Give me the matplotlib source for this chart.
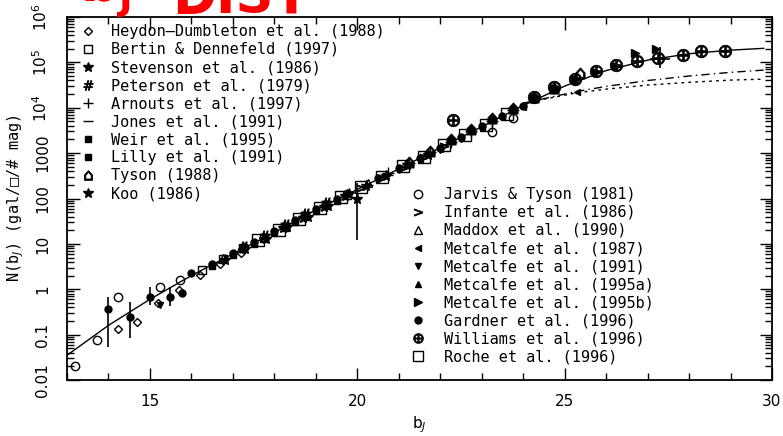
import numpy as np
import matplotlib.pyplot as plt
from matplotlib.lines import Line2D
from matplotlib.ticker import FixedLocator, NullFormatter

# model curve (bJ, N) and the two no-evolution tracks
curve_bj = [13.0, 14.0, 15.0, 16.0, 17.0, 18.0, 19.0, 20.0, 21.0, 22.0,
            23.0, 24.0, 25.0, 26.0, 27.0, 28.0, 29.0, 29.8]
curve_n = [0.035, 0.16, 0.60, 2.0, 6.0, 17.8, 56, 158, 447, 1320,
           3800, 11200, 30000, 66000, 112000, 155000, 186000, 204000]
dashdot_bj = [24.0, 25.3, 26.0, 27.0, 28.0, 29.0, 29.8]
dashdot_n = [12600, 22900, 29500, 39800, 50100, 60300, 67600]
dotted_bj = [24.0, 25.3, 26.0, 27.0, 28.0, 29.0, 29.8]
dotted_n = [12600, 21400, 25700, 31600, 36300, 40700, 42700]

# counts per survey: bJ, N
heydon_bj = [14.23, 14.7, 15.2, 15.7, 16.2, 16.7, 17.2]
heydon_n = [0.13, 0.19, 0.5, 0.95, 2.1, 3.6, 6.2]
bertin_bj = [16.25, 16.75, 17.25, 17.75, 18.25, 18.75, 19.25, 19.75]
bertin_n = [2.6, 4.6, 8.0, 13.5, 24, 42, 72, 120]
stevenson_bj = [16.8, 17.3, 17.8, 18.3, 18.8, 19.3, 19.8]
stevenson_n = [4.4, 7.8, 13, 23, 40, 70, 125]
peterson_bj = [17.25, 17.75, 18.25, 18.75, 19.25]
peterson_n = [8.5, 15, 26, 46, 80]
arnouts_bj = [20.75, 21.25, 21.75, 22.25, 22.75, 23.25, 23.75]
arnouts_n = [360, 600, 1050, 1800, 3100, 5200, 8800]
jones_bj = [20.25, 20.75, 21.25, 21.75, 22.25, 22.75]
jones_n = [200, 330, 560, 950, 1650, 2900]
weir_bj = [16.5, 17.0, 17.5, 18.0, 18.5, 19.0, 19.5]
weir_n = [3.3, 5.6, 9.8, 17, 30, 52, 90]
lilly_bj = [22.25, 22.75, 23.25, 23.75, 24.25, 24.75]
lilly_n = [1900, 3300, 5600, 9500, 16000, 25000]
tyson_bj = [21.25, 21.75, 22.25, 22.75, 23.25, 23.75, 24.25, 24.75, 25.36]
tyson_n = [640, 1100, 2000, 3400, 5900, 10000, 17000, 27000, 58000]
koo_bj = [18.2, 18.7, 19.2, 19.7, 20.0, 20.2, 20.7, 21.2, 21.7]
koo_n = [22, 38, 66, 115, 100, 190, 320, 540, 920]
jarvis_bj = [13.2, 13.72, 14.23, 15.24, 15.72, 23.24, 23.75]
jarvis_n = [0.02, 0.075, 0.67, 1.1, 1.6, 2900, 5900]
infante_bj = [20.1, 20.6, 21.1, 21.6, 22.1]
infante_n = [170, 290, 480, 820, 1400]
maddox_bj = [16.75, 17.25, 17.75, 18.25, 18.75, 19.25, 19.75, 20.25]
maddox_n = [5, 8.8, 14.5, 25, 44, 76, 130, 215]
met87_bj = [21.5, 22.0, 22.5, 23.0, 23.5, 24.0, 25.3]
met87_n = [760, 1250, 2150, 3600, 6200, 10500, 22000]
met91_bj = [15.24, 20.5, 21.0, 21.5, 22.0, 22.5, 23.0]
met91_n = [0.45, 250, 420, 720, 1200, 2100, 3500]
met95a_bj = [22.75, 23.25, 23.75, 24.25, 24.75, 25.25]
met95a_n = [3200, 5500, 9200, 15500, 25500, 40000]
met95b_bj = [24.25, 24.75, 25.25, 25.75, 26.25, 26.7, 27.2]
met95b_n = [16500, 27000, 42000, 60000, 82000, 160000, 195000]
gardner_bj = [15.77, 16.0, 16.5, 17.0, 17.5, 18.0, 18.5, 19.0, 19.5,
              20.5, 21.0, 21.5, 22.0, 22.5, 23.0, 23.5, 24.0]
gardner_n = [0.83, 2.3, 3.6, 6.4, 11, 19, 33, 58, 100,
             280, 460, 780, 1330, 2300, 3900, 6700, 11000]
williams_bj = [22.3, 24.25, 24.75, 25.25, 25.75, 26.25, 26.75, 27.25, 27.85, 28.3, 28.86]
williams_n = [5400, 17500, 28000, 44000, 63000, 87000, 105000, 125000, 145000, 178000, 180000]
roche_bj = [17.6, 18.1, 18.6, 19.1, 19.6, 20.1, 20.6, 21.1, 21.6, 22.1, 22.6, 23.1, 23.6]
roche_n = [12, 20, 36, 62, 110, 175, 300, 520, 830, 1500, 2500, 4200, 7200]

# points with error bars: bJ, N, lower, upper
err_bj = [13.99, 14.52, 15.0, 15.48, 20.0, 27.3]
err_n = [0.36, 0.245, 0.68, 0.68, 100, 120000]
err_lo = [0.054, 0.085, 0.45, 0.43, 12, 74000]
err_hi = [0.68, 0.52, 1.12, 1.12, 215, 214000]

fig = plt.figure(figsize=(7.83, 4.36), dpi=100)
ax = fig.add_axes([67 / 783, 1 - 380 / 436, 705 / 783, 363 / 436])

ax.plot(curve_bj, curve_n, color='black', lw=1)
ax.plot(dashdot_bj, dashdot_n, color='black', lw=1, ls=(0, (6, 3, 1, 3)))
ax.plot(dotted_bj, dotted_n, color='black', lw=1, ls=(0, (2, 3)))

series = [
    ('Heydon\u2013Dumbleton et al. (1988)', heydon_bj, heydon_n, 'D', False, 4.5),
    ('Bertin & Dennefeld (1997)', bertin_bj, bertin_n, 's', False, 6),
    ('Stevenson et al. (1986)', stevenson_bj, stevenson_n, '*', True, 8),
    ('Peterson et al. (1979)', peterson_bj, peterson_n, '$\\#$', True, 8),
    ('Arnouts et al. (1997)', arnouts_bj, arnouts_n, '+', True, 8),
    ('Jones et al. (1991)', jones_bj, jones_n, '_', True, 7),
    ('Weir et al. (1995)', weir_bj, weir_n, 's', True, 5),
    ('Lilly et al. (1991)', lilly_bj, lilly_n, 's', True, 4),
    ('Tyson (1988)', tyson_bj, tyson_n, '$\u2302$', True, 8),
    ('Koo (1986)', koo_bj, koo_n, '*', True, 8),
    ('Jarvis & Tyson (1981)', jarvis_bj, jarvis_n, 'o', False, 6),
    ('Infante et al. (1986)', infante_bj, infante_n, '$>$', True, 6),
    ('Maddox et al. (1990)', maddox_bj, maddox_n, '^', False, 6),
    ('Metcalfe et al. (1987)', met87_bj, met87_n, '<', True, 5),
    ('Metcalfe et al. (1991)', met91_bj, met91_n, 'v', True, 5),
    ('Metcalfe et al. (1995a)', met95a_bj, met95a_n, '^', True, 5),
    ('Metcalfe et al. (1995b)', met95b_bj, met95b_n, '>', True, 6),
    ('Gardner et al. (1996)', gardner_bj, gardner_n, 'o', True, 5),
    ('Williams et al. (1996)', williams_bj, williams_n, '$\\oplus$', True, 9),
    ('Roche et al. (1996)', roche_bj, roche_n, 's', False, 9),
]

handles = []
for label, xs, ys, mk, filled, ms in series:
    fc = 'black' if filled else 'none'
    # glyph markers are filled outlines, so only a thin edge on top
    ew = 0.6 if mk.startswith('$') else 1
    ax.plot(xs, ys, ls='none', marker=mk, ms=ms, mfc=fc, mec='black', mew=ew)
    handles.append(Line2D([], [], ls='none', marker=mk, ms=min(ms, 7),
                          mfc=fc, mec='black', mew=ew, label=label))

ax.errorbar(err_bj[:4], err_n[:4],
            yerr=[np.subtract(err_n[:4], err_lo[:4]), np.subtract(err_hi[:4], err_n[:4])],
            fmt='o', ms=5, color='black', lw=1.2, capsize=0)
ax.errorbar(err_bj[4:], err_n[4:],
            yerr=[np.subtract(err_n[4:], err_lo[4:]), np.subtract(err_hi[4:], err_n[4:])],
            xerr=[[0, 0.25], [0, 0.25]],
            fmt='none', color='black', lw=1.2, capsize=0)

ax.set_yscale('log')
ax.set_xlim(13, 30)
ax.set_ylim(0.01, 1e6)

ax.xaxis.set_major_locator(FixedLocator([15, 20, 25, 30]))
ax.xaxis.set_minor_locator(FixedLocator(np.arange(13, 31)))
yt = [0.01, 0.1, 1, 10, 100, 1000, 1e4, 1e5, 1e6]
ax.yaxis.set_major_locator(FixedLocator(yt))
ax.set_yticklabels(['0.01', '0.1', '1', '10', '100', '1000',
                    '10$^4$', '10$^5$', '10$^6$'], rotation=90, va='center')
minors = [m * 10.0 ** e for e in range(-2, 6) for m in range(2, 10)]
ax.yaxis.set_minor_locator(FixedLocator(minors))
ax.yaxis.set_minor_formatter(NullFormatter())
ax.tick_params(which='both', direction='in', top=True, right=True, labelsize=11, width=1)
ax.tick_params(which='major', length=9)
ax.tick_params(which='minor', length=5)
ax.tick_params(axis='y', which='major', pad=12)
ax.tick_params(axis='x', which='major', pad=10)
for s in ax.spines.values():
    s.set_linewidth(1.3)

ax.set_xlabel('b$_J$', fontsize=11, labelpad=4)
ax.set_ylabel('N(b$_J$) (gal/\u25a1/# mag)', fontsize=11, labelpad=4,
              family='DejaVu Sans Mono')

leg_font = {'family': 'DejaVu Sans Mono', 'size': 11}
leg1 = ax.legend(handles=handles[:10], loc='upper left', bbox_to_anchor=(0.0184, 0.981),
                 frameon=False, prop=leg_font, handlelength=1.0, handletextpad=1.0,
                 labelspacing=0.2, borderpad=0, borderaxespad=0)
ax.add_artist(leg1)
ax.legend(handles=handles[10:], loc='upper left', bbox_to_anchor=(0.4865, 0.532),
          frameon=False, prop=leg_font, handlelength=1.0, handletextpad=1.2,
          labelspacing=0.2, borderpad=0, borderaxespad=0)

# slide heading, mostly above the top edge
fig.text(80 / 783, 1 - 2 / 436, r'$\mathbf{b}_{\mathbf{J}}$', color='#ff0000',
         fontsize=38, va='baseline')
fig.text(172 / 783, 1 - 13 / 436, 'DIST', color='#ff0000', fontsize=38,
         fontweight='bold', va='baseline')

fig.savefig('out.png', dpi=100)
